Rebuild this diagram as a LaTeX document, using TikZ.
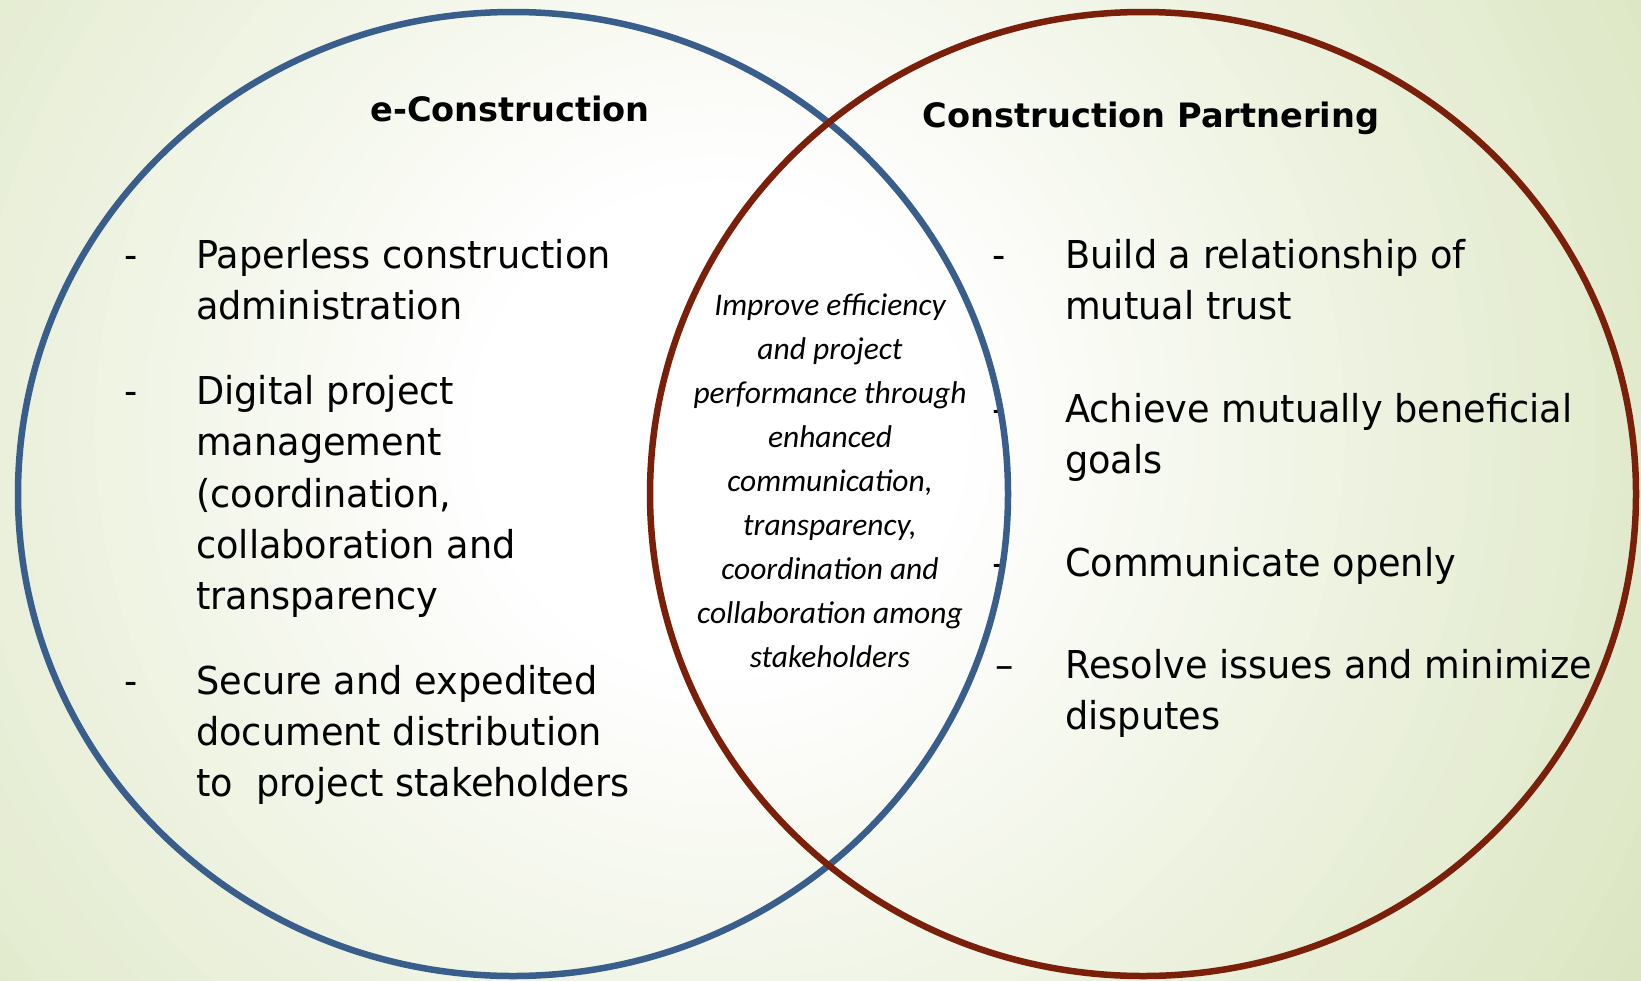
\documentclass[tikz,border=0pt]{standalone}
\usepackage{fontspec}
\newfontfamily\bodyfont[FakeStretch=0.955]{DejaVu Sans}
\newfontfamily\headfont{DejaVu Sans}
\newfontfamily\midfont{Carlito}
\definecolor{vblue}{RGB}{58,94,140}
\definecolor{vred}{RGB}{122,31,10}
\definecolor{bgD}{RGB}{216,227,188}
\begin{document}
\begin{tikzpicture}[x=1pt,y=-1pt,
  body/.style={font=\bodyfont\fontsize{38.4}{46}\selectfont, anchor=base west, inner sep=0pt, text=black},
  bul/.style={font=\bodyfont\fontsize{38.4}{46}\selectfont, anchor=base, inner sep=0pt, text=black},
  head/.style={font=\headfont\bfseries\fontsize{33.6}{40}\selectfont, anchor=base, inner sep=0pt, text=black},
  mid/.style={font=\midfont\itshape\fontsize{31.5}{36}\selectfont, anchor=base, inner sep=0pt, text=black},
  ring/.style={line width=6.5pt}]
\useasboundingbox (0,0) rectangle (1641,980);
\begin{scope}
  \clip (0,0) rectangle (1641,980);
  \fill[bgD] (0,0) rectangle (1641,980);
  \foreach \r in {1150,1125,...,250} {
    \pgfmathtruncatemacro\t{max(0,min(100,(\r-250)/9))}
    \fill[bgD!\t!white] (720,430) circle [radius=\r pt];
  }
\end{scope}

% titles
\node[head] (h1) at (510,121) {e-Construction};
\node[head] (h2) at (1151,127) {Construction Partnering};

% left bullets
\node[bul] (ld1) at (131,268) {-};
\node[body] (l1) at (196,268) {Paperless construction};
\node[body] (l2) at (196,319) {administration};
\node[bul] (ld2) at (131,404) {-};
\node[body] (l3) at (196,404) {Digital project};
\node[body] (l4) at (196,455) {management};
\node[body] (l5) at (196,507) {(coordination,};
\node[body] (l6) at (196,558) {collaboration and};
\node[body] (l7) at (196,609) {transparency};
\node[bul] (ld3) at (131,694) {-};
\node[body] (l8) at (196,694) {Secure and expedited};
\node[body] (l9) at (196,745) {document distribution};
\node[body] (l10) at (196,796) {to\ \ project stakeholders};

% right bullets
\node[bul] (rd1) at (999,268) {-};
\node[body] (r1) at (1065,268) {Build a relationship of};
\node[body] (r2) at (1065,319) {mutual trust};
\node[bul] (rd2) at (999,422) {-};
\node[body] (r3) at (1065,422) {Achieve mutually beneficial};
\node[body] (r4) at (1065,473) {goals};
\node[bul] (rd3) at (999,576) {-};
\node[body] (r5) at (1065,576) {Communicate openly};
\node[bul] (rd4) at (1005,678) {–};
\node[body] (r6) at (1065,678) {Resolve issues and minimize};
\node[body] (r7) at (1065,729) {disputes};

% middle
\node[mid] (m1) at (830,315) {Improve efficiency};
\node[mid] (m2) at (830,359) {and project};
\node[mid] (m3) at (830,403) {performance through};
\node[mid] (m4) at (830,447) {enhanced};
\node[mid] (m5) at (830,491) {communication,};
\node[mid] (m6) at (830,535) {transparency,};
\node[mid] (m7) at (830,579) {coordination and};
\node[mid] (m8) at (830,623) {collaboration among};
\node[mid] (m9) at (830,667) {stakeholders};

% circles
\draw[ring, vblue] (513,494) ellipse [x radius=495pt, y radius=482pt];
\draw[ring, vred] (1143,494) ellipse [x radius=493pt, y radius=482pt];
\end{tikzpicture}
\end{document}
